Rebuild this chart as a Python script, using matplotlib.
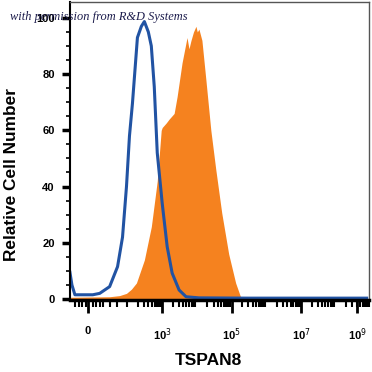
import numpy as np
import matplotlib
matplotlib.use('Agg')
import matplotlib.pyplot as plt

# x in display "decade" units (10^3 -> 3), y = relative cell number
iso_x = [0.343, 0.40, 0.486, 1.0, 1.2, 1.486, 1.714, 1.857, 1.971, 2.057, 2.143,
         2.286, 2.40, 2.486, 2.60, 2.686, 2.771, 2.857, 3.0, 3.143, 3.286, 3.486,
         3.686, 4.057, 5.486, 6.914, 8.886]
iso_y = [9.5, 5.0, 1.5, 1.5, 2.0, 4.4, 11.5, 22, 40, 58, 69.6,
         93, 97, 98.7, 95, 90, 75.5, 52, 34, 18.6, 9.2, 3.2,
         0.8, 0.4, 0.3, 0.3, 0.3]

tspan_x = [0.343, 1.486, 1.771, 1.971, 2.114, 2.257, 2.486, 2.686, 2.857, 2.971,
           3.0, 3.114, 3.2, 3.343, 3.429, 3.571, 3.714, 3.77, 3.829, 3.90, 3.971,
           4.01, 4.057, 4.143, 4.257, 4.4, 4.543, 4.714, 4.914, 5.114, 5.257,
           5.486, 8.886]
tspan_y = [0.6, 0.8, 1.2, 2.0, 3.5, 5.7, 13.9, 25.7, 42, 60,
           61, 62.6, 64, 66, 72, 84, 93, 89, 92, 95, 97,
           95, 96, 92, 78, 60, 46, 30.6, 16, 5.7, 0.7,
           0.2, 0.0]

# last label squeezed inside the plot edge like the original
xtick_pos = [0.86, 3, 5, 7, 8.62]
xtick_lab = ['0', '10$^{3}$', '10$^{5}$', '10$^{7}$', '10$^{9}$']
ytick_pos = [0, 20, 40, 60, 80, 100]

plt.rcParams['font.family'] = ['Liberation Sans', 'DejaVu Sans']

fig = plt.figure(figsize=(3.72, 3.72), dpi=100)
ax = fig.add_axes([0.188, 0.194, 0.804, 0.801])

ax.fill_between(tspan_x, tspan_y, 0, color='#f5821f', linewidth=0)
ax.plot(iso_x, iso_y, color='#2153a3', linewidth=2.2)

ax.set_xlim(0.343, 8.886)
ax.set_ylim(-0.3, 105.7)

# minor ticks
xminor = [0.5, 0.6, 0.7, 0.8, 1.0, 1.1, 1.2, 1.3, 1.5, 1.7, 2.0]
for n in range(2, 9):
    for k in range(2, 10):
        xminor.append(n + np.log10(k))
ax.set_xticks(xtick_pos)
ax.set_xticklabels(xtick_lab)
ax.set_xticks(xminor, minor=True)
ax.set_yticks(ytick_pos)
ax.set_yticks(np.arange(0, 105, 5), minor=True)

ax.tick_params(axis='x', which='major', length=9, width=2, pad=10, labelsize=8)
ax.tick_params(axis='x', which='minor', length=5, width=1.5)
ax.tick_params(axis='y', which='major', length=6, width=2.5, pad=5, labelsize=8)
ax.tick_params(axis='y', which='minor', length=3, width=1.2)
for lab in ax.get_xticklabels() + ax.get_yticklabels():
    lab.set_fontweight('bold')

ax.spines['left'].set_linewidth(1.5)
ax.spines['bottom'].set_linewidth(2.5)
ax.spines['top'].set_color('#555555')
ax.spines['right'].set_color('#555555')
ax.spines['top'].set_linewidth(1)
ax.spines['right'].set_linewidth(1)

fig.text(0.032, 0.53, 'Relative Cell Number', rotation=90, ha='center', va='center',
         fontsize=12.4, fontweight='bold')
fig.text(0.56, 0.032, 'TSPAN8', ha='center', va='center', fontsize=12.5, fontweight='bold')
fig.text(0.027, 0.955, 'with permission from R&D Systems', ha='left', va='center',
         fontsize=8.9, style='italic', family='Liberation Serif', color='#1c1c4c')

fig.savefig('out.png', dpi=100)
